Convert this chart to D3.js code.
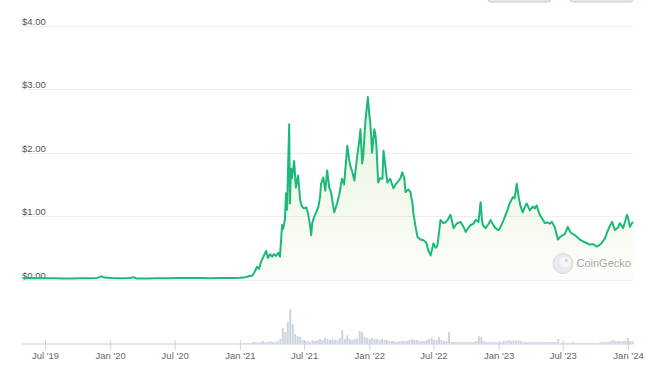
<!DOCTYPE html>
<html><head><meta charset="utf-8">
<script src="https://cdn.jsdelivr.net/npm/d3@7"></script>
<style>html,body{margin:0;padding:0;background:#fff;} svg{display:block;font-family:"Liberation Sans",Arial,Helvetica,sans-serif;}</style>
</head><body><svg id="c" width="650" height="372"></svg>
<script>
const yTicks = [0, 1, 2, 3, 4];
const xTickDates = ["2019-07-01","2020-01-01","2020-07-01","2021-01-01","2021-07-01","2022-01-01","2022-07-01","2023-01-01","2023-07-01","2024-01-01"];
const xTickLabels = ["Jul '19","Jan '20","Jul '20","Jan '21","Jul '21","Jan '22","Jul '22","Jan '23","Jul '23","Jan '24"];

const priceSeries = [
["2019-04-30",0.02],["2019-05-20",0.022],["2019-06-10",0.02],["2019-07-01",0.021],["2019-07-25",0.018],
["2019-08-20",0.017],["2019-09-15",0.016],["2019-10-10",0.018],["2019-11-05",0.02],["2019-11-25",0.025],
["2019-12-08",0.05],["2019-12-15",0.03],["2020-01-05",0.022],["2020-02-01",0.02],["2020-02-25",0.025],
["2020-03-08",0.035],["2020-03-16",0.015],["2020-04-10",0.014],["2020-05-10",0.018],["2020-06-10",0.02],
["2020-07-10",0.022],["2020-08-10",0.024],["2020-09-10",0.022],["2020-10-10",0.02],["2020-11-10",0.022],
["2020-12-10",0.024],["2021-01-01",0.027],["2021-01-12",0.03],["2021-01-26",0.05],["2021-02-04",0.06],
["2021-02-10",0.1],["2021-02-18",0.2],["2021-02-24",0.17],["2021-03-01",0.27],["2021-03-10",0.38],
["2021-03-16",0.45],["2021-03-21",0.34],["2021-03-27",0.4],["2021-04-02",0.36],["2021-04-07",0.4],
["2021-04-13",0.37],["2021-04-19",0.42],["2021-04-24",0.36],["2021-04-30",0.86],["2021-05-03",0.8],
["2021-05-08",0.95],["2021-05-11",1.36],["2021-05-14",1.1],["2021-05-17",1.8],["2021-05-20",2.45],
["2021-05-22",1.2],["2021-05-25",1.75],["2021-05-28",1.6],["2021-06-03",1.87],["2021-06-08",1.45],
["2021-06-14",1.64],["2021-06-20",1.25],["2021-06-25",1.15],["2021-07-01",1.12],["2021-07-07",1.14],
["2021-07-12",1.05],["2021-07-18",0.85],["2021-07-21",0.7],["2021-07-24",0.89],["2021-07-29",0.98],
["2021-08-04",1.06],["2021-08-10",1.14],["2021-08-15",1.3],["2021-08-18",1.51],["2021-08-24",1.61],
["2021-08-30",1.4],["2021-09-04",1.72],["2021-09-10",1.45],["2021-09-15",1.38],["2021-09-24",1.06],
["2021-10-02",1.2],["2021-10-08",1.33],["2021-10-16",1.59],["2021-10-22",1.5],["2021-10-31",2.11],
["2021-11-05",1.9],["2021-11-08",1.8],["2021-11-14",1.7],["2021-11-20",1.56],["2021-11-28",1.95],
["2021-12-04",2.2],["2021-12-07",2.37],["2021-12-12",1.83],["2021-12-15",1.95],["2021-12-21",2.5],
["2021-12-24",2.66],["2021-12-28",2.88],["2022-01-01",2.6],["2022-01-04",2.47],["2022-01-09",2.0],
["2022-01-15",2.37],["2022-01-18",2.3],["2022-01-21",2.11],["2022-01-26",1.53],["2022-02-01",1.6],
["2022-02-07",1.59],["2022-02-10",2.03],["2022-02-12",1.95],["2022-02-21",1.53],["2022-03-01",1.59],
["2022-03-10",1.44],["2022-03-16",1.5],["2022-03-21",1.53],["2022-03-30",1.6],["2022-04-04",1.69],
["2022-04-10",1.6],["2022-04-13",1.38],["2022-04-21",1.42],["2022-04-27",1.38],["2022-05-03",1.2],
["2022-05-05",1.06],["2022-05-11",0.85],["2022-05-17",0.67],["2022-05-25",0.63],["2022-06-03",0.62],
["2022-06-11",0.58],["2022-06-17",0.45],["2022-06-23",0.38],["2022-07-01",0.57],["2022-07-07",0.5],
["2022-07-12",0.53],["2022-07-21",0.94],["2022-07-29",0.89],["2022-08-04",0.9],["2022-08-10",0.94],
["2022-08-18",1.02],["2022-08-27",0.81],["2022-09-04",0.88],["2022-09-15",0.91],["2022-09-24",0.83],
["2022-09-30",0.75],["2022-10-08",0.82],["2022-10-14",0.86],["2022-10-22",0.88],["2022-10-28",0.94],
["2022-11-05",0.91],["2022-11-11",1.22],["2022-11-14",1.0],["2022-11-17",0.86],["2022-11-25",0.81],
["2022-12-04",0.88],["2022-12-09",0.94],["2022-12-18",0.85],["2022-12-23",0.81],["2022-12-31",0.78],
["2023-01-04",0.8],["2023-01-12",0.9],["2023-01-18",0.98],["2023-01-26",1.1],["2023-02-01",1.2],
["2023-02-10",1.3],["2023-02-15",1.28],["2023-02-21",1.51],["2023-02-27",1.28],["2023-03-04",1.15],
["2023-03-10",1.06],["2023-03-16",1.15],["2023-03-21",1.2],["2023-03-30",1.09],["2023-04-07",1.15],
["2023-04-13",1.12],["2023-04-18",1.17],["2023-04-27",1.02],["2023-05-05",0.95],["2023-05-11",0.89],
["2023-05-20",0.9],["2023-05-25",0.88],["2023-05-31",0.91],["2023-06-08",0.83],["2023-06-14",0.7],
["2023-06-17",0.63],["2023-06-23",0.67],["2023-07-01",0.7],["2023-07-07",0.72],["2023-07-15",0.83],
["2023-07-21",0.76],["2023-07-26",0.73],["2023-08-04",0.7],["2023-08-10",0.67],["2023-08-18",0.63],
["2023-08-27",0.6],["2023-09-04",0.58],["2023-09-15",0.55],["2023-09-24",0.56],["2023-10-05",0.52],
["2023-10-14",0.55],["2023-10-19",0.58],["2023-10-28",0.65],["2023-11-02",0.73],["2023-11-11",0.85],
["2023-11-17",0.91],["2023-11-25",0.78],["2023-12-04",0.82],["2023-12-09",0.89],["2023-12-18",0.81],
["2023-12-24",0.92],["2023-12-29",1.02],["2024-01-01",0.98],["2024-01-06",0.83],["2024-01-11",0.88],
["2024-01-15",0.91]
];

// weekly trading volume (USD millions), weeks starting 2021-01-03
const volumeStart = "2021-01-03";
const volumeValues = [
23,23,45,45,45, 90,90,68,90,135,90,90,135,90, 90,135,
225,720,540,990,1575,900,450,360,315,180,135,
135,90,180,135, 180,225,180,270,225, 180,225,180,180,270,
630,225,405, 225,180,225, 270,585,540,315, 270,225,270,225,
225,180,225,180,180,135, 135,135,90,135,135,135,135,180,225,180,
180,135,135,135,180,225,270, 180,180,315,180,135,135, 540,
90,90,90,90,90,90,90,90,90,90, 135,360,315,135,
90,90,90,90,90,90,90, 135,135,180,135,180,135,180,135,90,90,
90,90,90,90,90,90,90,90,90,90,90,90, 225,
45,90,45,45,45,90,45,45,45,45,45,45,
45,45,45,45,90,90,90,90,135, 180,135,135,135,135,135, 270,135,135
];

const parse = d3.timeParse("%Y-%m-%d");
const prices = priceSeries.map(d => ({date: parse(d[0]), value: d[1]}));
const vStart = parse(volumeStart);
const volumes = volumeValues.map((v, i) => ({date: d3.timeDay.offset(vStart, 7 * i), value: v}));

const svg = d3.select("#c");
const x = d3.scaleTime().domain(d3.extent(prices, d => d.date)).range([23, 633]);
const y = d3.scaleLinear().domain([0, 4]).range([279.5, 26]);
const yv = d3.scaleLinear().domain([0, 2000]).range([344, 300]);

// top-right buttons (partially visible)
svg.selectAll("rect.btn").data([[488, 551], [570, 633]]).join("rect")
  .attr("class", "btn").attr("x", d => d[0]).attr("y", -12).attr("width", d => d[1] - d[0]).attr("height", 14)
  .attr("rx", 3).attr("fill", "#e3e7ee").attr("stroke", "#c3cad7").attr("stroke-width", 1);

// gridlines + y labels
const gy = svg.append("g");
gy.selectAll("line").data(yTicks).join("line")
  .attr("x1", 22).attr("x2", 633).attr("y1", d => Math.round(y(d)) + 0.5).attr("y2", d => Math.round(y(d)) + 0.5)
  .attr("stroke", "#eeeeee").attr("stroke-width", 1);

// gradient area
const defs = svg.append("defs");
const grad = defs.append("linearGradient").attr("id", "ga")
  .attr("gradientUnits", "userSpaceOnUse").attr("x1", 0).attr("x2", 0).attr("y1", y(2.9)).attr("y2", y(0));
grad.append("stop").attr("offset", 0).attr("stop-color", "#8dc647").attr("stop-opacity", 0.2);
grad.append("stop").attr("offset", 1).attr("stop-color", "#8dc647").attr("stop-opacity", 0.03);

svg.append("path").datum(prices)
  .attr("d", d3.area().x(d => x(d.date)).y0(y(0)).y1(d => y(d.value)))
  .attr("fill", "url(#ga)");

gy.selectAll("text").data(yTicks).join("text")
  .attr("x", 22).attr("y", d => y(d) - 1)
  .attr("font-size", 9.5).attr("fill", "#555")
  .text(d => d3.format("$.2f")(d));

// volume bars
svg.append("g").selectAll("rect").data(volumes).join("rect")
  .attr("x", d => x(d.date) - 1).attr("width", 2)
  .attr("y", d => yv(d.value)).attr("height", d => yv(0) - yv(d.value))
  .attr("fill", "#cdd4e1");

// price line
svg.append("path").datum(prices)
  .attr("d", d3.line().x(d => x(d.date)).y(d => y(d.value)))
  .attr("fill", "none").attr("stroke", "#1cb87c").attr("stroke-width", 2).attr("stroke-linejoin", "round");

// watermark
const wm = svg.append("g");
wm.append("circle").attr("cx", 563).attr("cy", 263.5).attr("r", 10).attr("fill", "#e9e9ee").attr("stroke", "#d8d8de");
wm.append("circle").attr("cx", 565).attr("cy", 262).attr("r", 5.5).attr("fill", "#f6f6f8");
wm.append("circle").attr("cx", 566.5).attr("cy", 260.5).attr("r", 1.3).attr("fill", "#c8c8cf");
wm.append("text").attr("x", 576.5).attr("y", 267.2).attr("font-size", 11).attr("fill", "#a9a9ae").text("CoinGecko");

// x axis
const xa = d3.axisBottom(x)
  .tickValues(xTickDates.map(parse))
  .tickFormat((d, i) => xTickLabels[i])
  .tickSize(6).tickPadding(2);
const gx = svg.append("g").attr("transform", "translate(0,344)").call(xa);
gx.select(".domain").remove();
gx.insert("line", ":first-child").attr("x1", 22).attr("x2", 633).attr("y1", 0).attr("y2", 0)
  .attr("stroke", "#d7dde8").attr("stroke-width", 1.6);
gx.selectAll(".tick line").attr("stroke", "#ccd3df").attr("y1", -4);
gx.selectAll(".tick text").attr("fill", "#666").attr("font-size", 9.5)
  .attr("font-family", "'Liberation Sans',Arial,sans-serif");
</script></body></html>
